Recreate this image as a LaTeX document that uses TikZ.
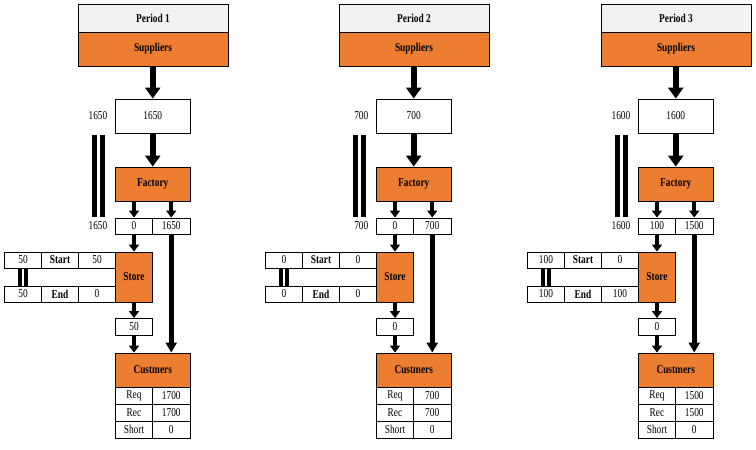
\documentclass[tikz,border=0pt]{standalone}
\usepackage{fontspec}
\setmainfont[FakeStretch=0.78]{Liberation Serif}
\usetikzlibrary{arrows.meta}
\definecolor{orng}{HTML}{ED7D31}
\definecolor{hdr}{HTML}{F2F2F2}
\tikzset{
  box/.style={draw=black, line width=0.9pt, inner sep=0pt, fill=white, font=\fontsize{12}{13}\selectfont},
  obox/.style={box, fill=orng, font=\fontsize{12}{13}\selectfont\bfseries},
  hbox/.style={box, fill=hdr, font=\fontsize{12}{13}\selectfont\bfseries},
  lbl/.style={inner sep=0pt, anchor=east, font=\fontsize{12}{13}\selectfont},
  bigarr/.style={draw=black, line width=6.5pt, -{Triangle[width=15pt,length=11pt]}},
  smarr/.style={draw=black, line width=4pt, -{Triangle[width=10pt,length=7pt]}},
  lgarr/.style={draw=black, line width=5pt, -{Triangle[width=11pt,length=10pt]}}
}
\begin{document}
\begin{tikzpicture}[x=1pt,y=-1pt]
\useasboundingbox (0,0) rectangle (756,450);
\foreach \ii/\off/\vT/\vL/\vR/\vSa/\vSb/\vEa/\vEb/\vB/\vQ/\vC/\vH in {
  1/0/1650/0/1650/50/50/50/0/50/1700/1700/0,
  2/261/700/0/700/0/0/0/0/0/700/700/0,
  3/523/1600/100/1500/100/0/100/100/0/1500/1500/0}{
\begin{scope}[xshift=\off pt]
  \node[hbox, minimum width=150pt, minimum height=28pt] (head\ii) at (153,18) {Period \ii};
  \node[obox, minimum width=150pt, minimum height=34pt] (sup\ii) at (153,49) {Suppliers};
  \node[box, minimum width=75pt, minimum height=34pt] (top\ii) at (152.75,116) {\vT};
  \node[obox, minimum width=75pt, minimum height=34pt] (fac\ii) at (152.75,184) {Factory};
  \node[box, minimum width=37pt, minimum height=16pt] (fl\ii) at (134,226) {\vL};
  \node[box, minimum width=37.5pt, minimum height=16pt] (fr\ii) at (171.25,226) {\vR};
  \node[obox, minimum width=37pt, minimum height=50pt] (store\ii) at (134,277) {Store};
  \node[box, minimum width=37pt, minimum height=16pt] (sa\ii) at (23,260) {\vSa};
  \node[box, minimum width=37pt, minimum height=16pt, font=\fontsize{12}{13}\selectfont\bfseries] (sl\ii) at (60,260) {Start};
  \node[box, minimum width=37pt, minimum height=16pt] (sb\ii) at (97,260) {\vSb};
  \node[box, minimum width=37pt, minimum height=16pt] (ea\ii) at (23,294) {\vEa};
  \node[box, minimum width=37pt, minimum height=16pt, font=\fontsize{12}{13}\selectfont\bfseries] (el\ii) at (60,294) {End};
  \node[box, minimum width=37pt, minimum height=16pt] (eb\ii) at (97,294) {\vEb};
  \node[box, minimum width=37pt, minimum height=17pt] (bx\ii) at (134,327) {\vB};
  \node[obox, minimum width=75pt, minimum height=34pt] (cus\ii) at (152.75,370) {Custmers};
  \node[box, minimum width=37pt, minimum height=17pt] (rql\ii) at (134,395.5) {Req};
  \node[box, minimum width=37.5pt, minimum height=17pt] (rqv\ii) at (171.25,395.5) {\vQ};
  \node[box, minimum width=37pt, minimum height=17pt] (rcl\ii) at (134,412.5) {Rec};
  \node[box, minimum width=37.5pt, minimum height=17pt] (rcv\ii) at (171.25,412.5) {\vC};
  \node[box, minimum width=37pt, minimum height=17pt] (shl\ii) at (134,429.5) {Short};
  \node[box, minimum width=37.5pt, minimum height=17pt] (shv\ii) at (171.25,429.5) {\vH};
  \node[lbl] (lt\ii) at (107.5,116) {\vT};
  \node[lbl] (lb\ii) at (107.5,226) {\vT};
  \fill (92,135) rectangle (97,217);
  \fill (99.5,135) rectangle (105,217);
  \fill (18,268) rectangle (21.5,286);
  \fill (24,268) rectangle (27.5,286);
\end{scope}
  \draw[bigarr] (sup\ii.south -| top\ii) -- (top\ii);
  \draw[bigarr] (top\ii) -- (fac\ii);
  \draw[smarr] (fac\ii.south -| fl\ii) -- (fl\ii);
  \draw[smarr] (fac\ii.south -| fr\ii) -- (fr\ii);
  \draw[smarr] (fl\ii) -- (store\ii);
  \draw[smarr] (store\ii) -- (bx\ii);
  \draw[smarr] (bx\ii) -- (cus\ii.north -| bx\ii);
  \draw[lgarr] (fr\ii) -- (cus\ii.north -| fr\ii);
}
\end{tikzpicture}
\end{document}
